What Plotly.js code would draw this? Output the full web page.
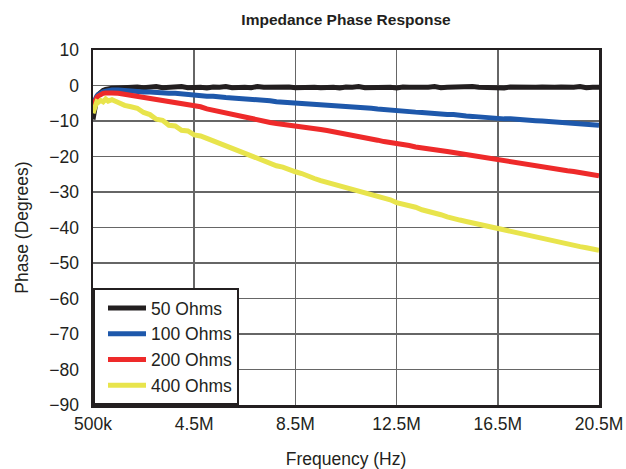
<!DOCTYPE html>
<html>
<head>
<meta charset="utf-8">
<script src="https://cdn.plot.ly/plotly-3.0.1.min.js"></script>
<style>html,body{margin:0;padding:0;background:#fff}#chart{width:626px;height:469px}</style>
</head>
<body>
<div id="chart"></div>
<script>
// Frequency in MHz
const freqMHz = [0.5,0.55,0.6,0.65,0.7,0.8,0.9,1.0,1.1,1.25,
 1.5,1.75,2.0,2.25,2.5,2.75,3.0,3.25,3.5,3.75,4.0,4.25,4.5,4.75,5.0,5.25,5.5,5.75,6.0,6.25,6.5,6.75,7.0,7.25,7.5,7.75,8.0,8.25,8.5,8.75,9.0,9.25,9.5,9.75,10.0,10.25,10.5,10.75,11.0,11.25,11.5,11.75,12.0,12.25,12.5,12.75,13.0,13.25,13.5,13.75,14.0,14.25,14.5,14.75,15.0,15.25,15.5,15.75,16.0,16.25,16.5,16.75,17.0,17.25,17.5,17.75,18.0,18.25,18.5,18.75,19.0,19.25,19.5,19.75,20.0,20.25,20.5];

const ohms50 = [-9.6,-7.2,-4.8,-3.4,-2.6,-1.9,-1.4,-1.1,-0.9,-0.8,
 -0.7,-0.5,-0.6,-0.4,-0.6,-0.5,-0.3,-0.6,-0.4,-0.5,-0.3,-0.6,-0.4,-0.5,-0.7,-0.4,-0.5,-0.3,-0.6,-0.4,-0.5,-0.6,-0.3,-0.5,-0.4,-0.6,-0.5,-0.4,-0.6,-0.5,-0.3,-0.5,-0.6,-0.4,-0.5,-0.7,-0.4,-0.5,-0.3,-0.6,-0.5,-0.4,-0.6,-0.5,-0.7,-0.4,-0.5,-0.6,-0.4,-0.5,-0.3,-0.6,-0.5,-0.4,-0.6,-0.5,-0.3,-0.5,-0.6,-0.4,-0.5,-0.7,-0.4,-0.5,-0.3,-0.6,-0.5,-0.4,-0.6,-0.5,-0.4,-0.6,-0.5,-0.3,-0.6,-0.5,-0.5];

const ohms100 = [-5.2,-4.2,-3.5,-3.0,-2.6,-2.1,-1.8,-1.6,-1.4,-1.3,
 -1.3,-1.5,-1.5,-1.7,-1.8,-1.8,-2.0,-2.0,-2.2,-2.2,-2.4,-2.6,-2.7,-2.8,-3.0,-3.0,-3.3,-3.4,-3.5,-3.6,-3.9,-3.9,-4.1,-4.3,-4.3,-4.6,-4.7,-4.8,-5.0,-5.0,-5.3,-5.3,-5.5,-5.5,-5.7,-5.7,-5.9,-6.0,-6.1,-6.3,-6.4,-6.6,-6.8,-6.9,-7.1,-7.2,-7.4,-7.5,-7.6,-7.8,-7.9,-8.0,-8.2,-8.2,-8.5,-8.6,-8.7,-8.9,-9.0,-9.1,-9.2,-9.4,-9.4,-9.6,-9.7,-9.7,-9.9,-10.0,-10.1,-10.3,-10.3,-10.5,-10.6,-10.7,-10.9,-11.0,-11.2];

const ohms200 = [-5.8,-4.8,-4.0,-3.4,-3.0,-2.5,-2.2,-2.1,-2.0,-2.1,
 -2.2,-2.5,-2.7,-3.0,-3.2,-3.4,-3.7,-4.0,-4.3,-4.6,-5.0,-5.5,-5.8,-6.0,-6.6,-7.0,-7.5,-7.9,-8.2,-8.6,-9.0,-9.3,-9.7,-10.0,-10.4,-10.7,-10.9,-11.3,-11.6,-11.7,-12.0,-12.1,-12.4,-12.7,-13.0,-13.4,-13.7,-14.1,-14.4,-14.8,-15.1,-15.4,-15.8,-16.0,-16.3,-16.6,-16.9,-17.3,-17.5,-17.9,-18.1,-18.4,-18.6,-18.9,-19.2,-19.5,-19.8,-20.1,-20.4,-20.7,-21.0,-21.2,-21.6,-21.8,-22.1,-22.4,-22.6,-22.9,-23.2,-23.4,-23.7,-24.0,-24.2,-24.5,-24.8,-25.0,-25.4];

const ohms400 = [-7.8,-6.2,-5.2,-4.6,-4.8,-4.2,-4.6,-3.8,-4.4,-4.0,
 -4.8,-5.6,-6.0,-6.4,-7.6,-8.2,-9.5,-9.8,-11.2,-11.4,-12.6,-12.8,-13.9,-14.2,-14.9,-15.6,-16.2,-17.1,-17.6,-18.5,-19.0,-19.9,-20.4,-21.4,-21.8,-22.6,-23.0,-23.8,-24.3,-24.8,-25.6,-26.2,-26.8,-27.3,-27.8,-28.2,-28.8,-29.1,-29.6,-30.1,-30.6,-31.2,-31.7,-32.2,-33.0,-33.4,-34.0,-34.3,-35.0,-35.4,-36.0,-36.4,-37.0,-37.3,-37.9,-38.3,-38.7,-39.2,-39.6,-40.0,-40.4,-40.8,-41.3,-41.6,-42.0,-42.4,-42.8,-43.2,-43.5,-43.9,-44.3,-44.6,-45.0,-45.4,-45.7,-46.0,-46.4];

const seriesNames = ['50 Ohms','100 Ohms','200 Ohms','400 Ohms'];
const seriesColors = ['#231f20','#1e58ab','#ee2a2a','#e8e44c'];
const xTickVals = [0.5,4.5,8.5,12.5,16.5,20.5];
const xTickText = ['500k','4.5M','8.5M','12.5M','16.5M','20.5M'];

const freqHz = freqMHz.map(f => f*1e6);
const allSeries = [ohms50, ohms100, ohms200, ohms400];
const traces = allSeries.map((ys,i) => ({
  x: freqHz, y: ys, type:'scatter', mode:'lines', name: seriesNames[i],
  line:{color: seriesColors[i], width:5}
}));

const font = 'Arial, "Liberation Sans", Helvetica, sans-serif';
const layout = {
  width:626, height:469,
  margin:{l:93, r:27, t:50, b:64},
  paper_bgcolor:'#fff', plot_bgcolor:'#fff',
  font:{family:font, size:18, color:'#231f20'},
  title:{text:'Impedance Phase Response', font:{family:font, size:15.5, weight:'bold', color:'#231f20'},
    x:0.5, xanchor:'center', xref:'paper', y:1-20/469, yref:'container', yanchor:'middle'},
  xaxis:{range:[0.5e6,20.5e6], tickvals: xTickVals.map(v=>v*1e6), ticktext: xTickText,
    showgrid:true, gridcolor:'#666', gridwidth:1.5, zeroline:false,
    showline:true, mirror:true, linecolor:'#231f20', linewidth:2.5, ticks:'', ticklabelstandoff:1,
    tickfont:{size:17.5}, title:{text:'Frequency (Hz)', font:{size:17.5}, standoff:20}},
  yaxis:{range:[-90,10], dtick:10, tick0:0,
    showgrid:true, gridcolor:'#666', gridwidth:1.5, zeroline:false,
    showline:true, mirror:true, linecolor:'#231f20', linewidth:2.5, ticks:'', ticklabelstandoff:8,
    tickfont:{size:17.5}, title:{text:'Phase (Degrees)', font:{size:17.5}, standoff:16}},
  legend:{x:0, y:0, xanchor:'left', yanchor:'bottom', bgcolor:'#fff', bordercolor:'#231f20', borderwidth:2,
    font:{size:17.5}, itemwidth:38, tracegroupgap:0, indentation:8},
  showlegend:true
};
Plotly.newPlot('chart', traces, layout, {displayModeBar:false, staticPlot:true});
</script>
</body>
</html>
